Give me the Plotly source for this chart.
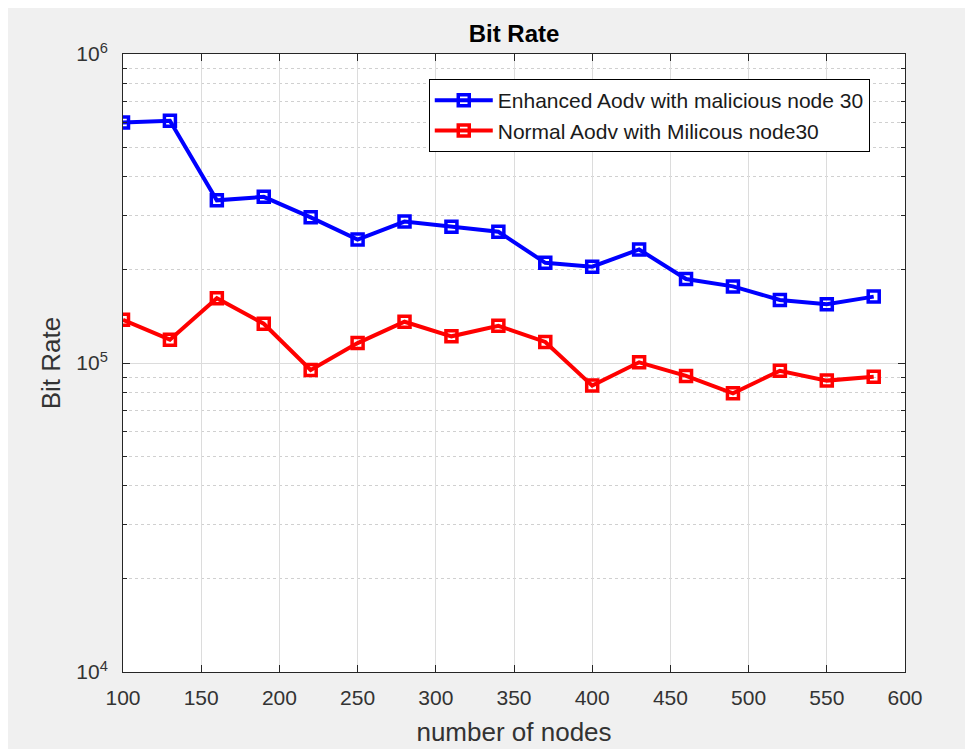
import plotly.graph_objects as go

nodes = [100, 130, 160, 190, 220, 250, 280, 310, 340, 370, 400, 430, 460, 490, 520, 550, 580]
enhanced = [6.0e5, 6.08e5, 3.36e5, 3.45e5, 2.96e5, 2.51e5, 2.87e5, 2.76e5, 2.66e5,
            2.11e5, 2.05e5, 2.33e5, 1.87e5, 1.77e5, 1.60e5, 1.55e5, 1.64e5]
normal = [1.38e5, 1.19e5, 1.62e5, 1.34e5, 9.49e4, 1.16e5, 1.36e5, 1.22e5, 1.32e5,
          1.17e5, 8.45e4, 1.005e5, 9.08e4, 7.98e4, 9.44e4, 8.77e4, 9.03e4]
x_ticks = [100, 150, 200, 250, 300, 350, 400, 450, 500, 550, 600]
y_ticks = [1e4, 1e5, 1e6]
y_ticktext = ["10<sup>4</sup>", "10<sup>5</sup>", "10<sup>6</sup>"]
series_names = ["Enhanced Aodv with malicious node 30", "Normal Aodv with Milicous node30"]

minor_vals = [m * 10 ** e for e in (4, 5) for m in range(2, 10)]

fig = go.Figure()
fig.add_trace(go.Scatter(
    x=nodes, y=enhanced, mode="lines+markers", name=series_names[0],
    line=dict(color="#0000ff", width=4),
    marker=dict(symbol="square-open", size=11, color="#0000ff", line=dict(width=3.5, color="#0000ff")),
))
fig.add_trace(go.Scatter(
    x=nodes, y=normal, mode="lines+markers", name=series_names[1],
    line=dict(color="#ff0000", width=4),
    marker=dict(symbol="square-open", size=11, color="#ff0000", line=dict(width=3.5, color="#ff0000")),
))

font_family = "Liberation Sans, Arial, sans-serif"
fig.update_layout(
    width=965, height=741,
    paper_bgcolor="#f0f0f0", plot_bgcolor="white",
    margin=dict(l=115, r=68, t=46, b=77),
    font=dict(family=font_family, color="#262626"),
    title=dict(text="<b>Bit Rate</b>", x=0.5244, xanchor="center", y=0.966, yanchor="middle",
               font=dict(size=24, color="black", family=font_family)),
    showlegend=True,
    legend=dict(x=0.391, y=0.9595, xanchor="left", yanchor="top",
                bgcolor="white", bordercolor="black", borderwidth=1,
                font=dict(size=21, color="#1a1a1a"), tracegroupgap=0, itemwidth=58),
)
fig.update_xaxes(
    range=[100, 600], tickvals=x_ticks, ticks="inside", ticklen=7, tickcolor="#262626",
    showline=True, linecolor="#262626", linewidth=1, mirror="ticks",
    showgrid=True, gridcolor="#dcdcdc", gridwidth=1, zeroline=False, automargin=False,
    tickfont=dict(size=21, color="#333333"), ticklabelstandoff=7,
    title=dict(text="number of nodes", font=dict(size=26, color="#333333"), standoff=14),
)
fig.update_yaxes(
    type="log", range=[4, 6], tickvals=y_ticks, ticktext=y_ticktext,
    ticks="inside", ticklen=7, tickcolor="#262626",
    showline=True, linecolor="#262626", linewidth=1, mirror="ticks",
    showgrid=True, gridcolor="#dcdcdc", gridwidth=1, zeroline=False, automargin=False,
    tickfont=dict(size=21, color="#333333"), ticklabelstandoff=10,
    title=dict(text="Bit Rate", font=dict(size=26, color="#333333"), standoff=8),
    minor=dict(tickvals=minor_vals, ticks="inside", ticklen=4, tickcolor="#262626",
               showgrid=True, gridcolor="#d0d0d0", griddash="dot", gridwidth=1),
)

fig.write_html("out.html")
